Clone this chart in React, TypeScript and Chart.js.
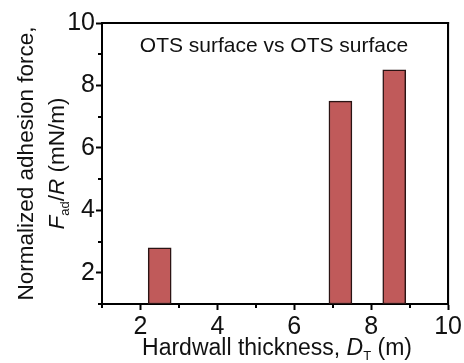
import React, { useEffect, useRef } from "react";
import { Chart, registerables } from "chart.js";

Chart.register(...registerables);

const thickness = [2.5, 7.2, 8.6];
const adhesion = [2.8, 7.5, 8.5];
const xMin = 1;
const xMax = 10;
const yMin = 1;
const yMax = 10;
const xLabelTicks = [2, 4, 6, 8, 10];
const yLabelTicks = [2, 4, 6, 8, 10];
const insideLabel = "OTS surface vs OTS surface";
const yTitleLine1 = "Normalized adhesion force,";

const FONT = "Arial, 'Liberation Sans', sans-serif";
const INK = "#000000";

type Seg = { t: string; style?: string; size: number; dy?: number };

function drawRich(ctx: CanvasRenderingContext2D, segs: Seg[], cx: number, baseline: number) {
  let total = 0;
  for (const s of segs) {
    ctx.font = `${s.style || ""} ${s.size}px ${FONT}`;
    total += ctx.measureText(s.t).width;
  }
  let x = cx - total / 2;
  ctx.textAlign = "left";
  ctx.textBaseline = "alphabetic";
  for (const s of segs) {
    ctx.font = `${s.style || ""} ${s.size}px ${FONT}`;
    ctx.fillText(s.t, x, baseline + (s.dy || 0));
    x += ctx.measureText(s.t).width;
  }
}

const decor = {
  id: "decor",
  afterDraw(chart: any) {
    const { ctx, chartArea } = chart;
    const { left, right, top, bottom } = chartArea;
    ctx.save();
    const xs = chart.scales.x;
    const ys = chart.scales.y;
    ctx.fillStyle = "#000000";
    ctx.fillRect(left - 1, top - 1, right - left + 2, 2);
    ctx.fillRect(right - 1, top - 1, 2, bottom - top + 2);
    for (let v = xMin; v <= xMax; v++) {
      if (xLabelTicks.includes(v)) continue;
      const px = Math.round(xs.getPixelForValue(v));
      ctx.fillRect(px - 1, bottom, 2, 4);
    }
    for (let v = yMin; v <= yMax; v++) {
      if (yLabelTicks.includes(v)) continue;
      const py = Math.round(ys.getPixelForValue(v));
      ctx.fillRect(left - 4, py - 1, 4, 2);
    }
    ctx.fillStyle = "#111111";
    ctx.font = `21px ${FONT}`;
    ctx.textAlign = "center";
    ctx.textBaseline = "alphabetic";
    ctx.fillText(insideLabel, 274, 52);
    drawRich(
      ctx,
      [
        { t: "Hardwall thickness, ", size: 23 },
        { t: "D", style: "italic", size: 23 },
        { t: "T", size: 13, dy: 5 },
        { t: " (m)", size: 23 },
      ],
      277,
      355
    );
    const cy = (top + bottom) / 2;
    ctx.translate(0, cy);
    ctx.rotate(-Math.PI / 2);
    ctx.font = `22.5px ${FONT}`;
    ctx.textAlign = "center";
    ctx.fillText(yTitleLine1, 0, 33);
    drawRich(
      ctx,
      [
        { t: "F", style: "italic", size: 22.5 },
        { t: "ad", size: 13, dy: 5 },
        { t: "/", size: 22.5 },
        { t: "R", style: "italic", size: 22.5 },
        { t: " (mN/m)", size: 22.5 },
      ],
      0,
      64
    );
    ctx.restore();
  },
};

const frameAxis = (position: string, axis: string) => ({
  type: "linear",
  position,
  axis,
  offset: false,
  min: axis === "x" ? xMin : yMin,
  max: axis === "x" ? xMax : yMax,
  afterFit: (s: any) => {
    if (axis === "x") s.height = 0;
    else s.width = 0;
  },
  ticks: { display: false },
  grid: { display: false },
  border: { display: true, color: INK, width: 2 },
});

export default function App() {
  const ref = useRef<HTMLCanvasElement>(null);
  useEffect(() => {
    document.body.style.margin = "0";
    const chart = new Chart(ref.current!, {
      type: "bar",
      data: {
        datasets: [
          {
            data: thickness.map((x, i) => ({ x, y: adhesion[i] })),
            backgroundColor: "#C05A5A",
            borderColor: "#2a1414",
            borderWidth: 1.5,
            borderSkipped: false,
            barThickness: 23,
            base: yMin,
          } as any,
        ],
      },
      options: {
        responsive: false,
        animation: false,
        events: [],
        layout: { padding: { left: 62, top: 23, right: 15, bottom: 29 } },
        plugins: { legend: { display: false }, tooltip: { enabled: false } },
        scales: {
          x: {
            type: "linear",
            offset: false,
            min: xMin,
            max: xMax,
            afterFit: (s: any) => {
              s.height = 30;
            },
            afterBuildTicks: (s: any) => {
              s.ticks = xLabelTicks.map((v) => ({ value: v }));
            },
            ticks: {
              autoSkip: false,
              maxRotation: 0,
              padding: 2,
              color: "#111111",
              font: { size: 25, family: FONT },
            },
            grid: { drawOnChartArea: false, offset: false, tickLength: 6, tickColor: INK, tickWidth: 2 },
            border: { color: INK, width: 2 },
          },
          y: {
            type: "linear",
            min: yMin,
            max: yMax,
            afterFit: (s: any) => {
              s.width = 40;
            },
            afterBuildTicks: (s: any) => {
              s.ticks = yLabelTicks.map((v) => ({ value: v }));
            },
            ticks: {
              autoSkip: false,
              padding: 1,
              color: "#111111",
              font: { size: 25, family: FONT },
            },
            grid: { drawOnChartArea: false, tickLength: 6, tickColor: INK, tickWidth: 2 },
            border: { color: INK, width: 2 },
          },
          x2: frameAxis("top", "x") as any,
          y2: frameAxis("right", "y") as any,
        },
      },
      plugins: [decor],
    });
    return () => chart.destroy();
  }, []);
  return <canvas ref={ref} width={464} height={363} style={{ display: "block" }} />;
}
